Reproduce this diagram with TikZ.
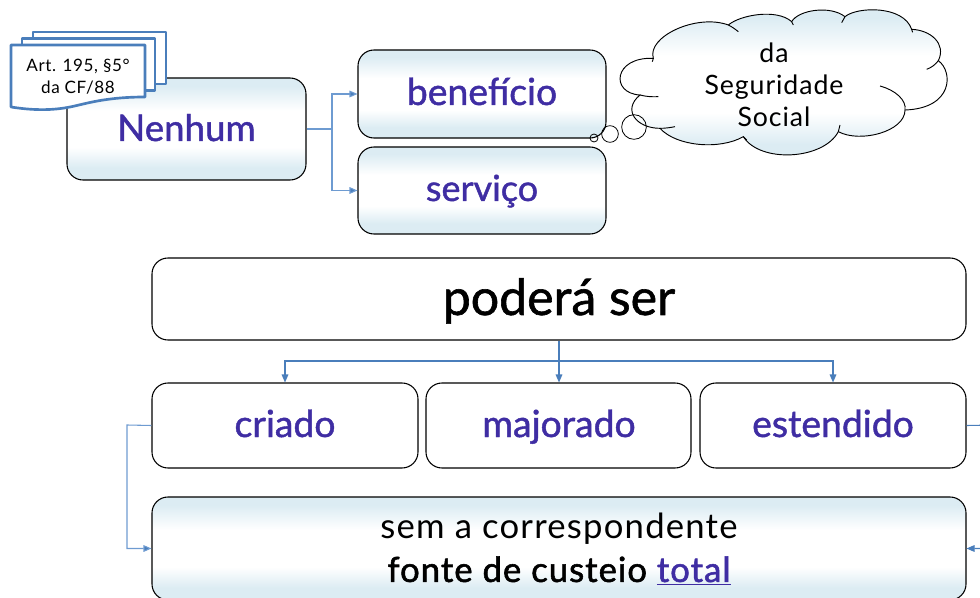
\documentclass[tikz,border=0pt]{standalone}
\usepackage{fontspec}
\setmainfont[LetterSpace=3.5]{Lato}
\newfontfamily\medfont[FakeBold=1.2]{Lato}
\newfontfamily\strongfont[FakeBold=1.6,LetterSpace=3]{Lato}
\usetikzlibrary{arrows.meta}
\definecolor{boxblue}{HTML}{DCECF3}
\definecolor{ink}{HTML}{3F2DA3}
\definecolor{linkblue}{HTML}{4A7EBB}
\definecolor{linklight}{HTML}{6E9BD1}
\pgfdeclareverticalshading{boxgrad}{100bp}{color(0bp)=(boxblue); color(31bp)=(boxblue); color(41bp)=(white); color(59bp)=(white); color(71bp)=(boxblue); color(100bp)=(boxblue)}
\tikzset{
  box/.style={draw=black,line width=0.8pt,rounded corners=12pt,inner sep=0pt,align=center},
  gradbox/.style={box,shading=boxgrad},
  plainbox/.style={box,fill=white},
  link/.style={draw=linkblue,line width=0.8pt,-{Triangle[length=6pt,width=5pt]}},
  linkl/.style={draw=linklight,line width=0.8pt,-{Triangle[length=6pt,width=5pt,fill=linkblue]}},
  page/.style={draw=linkblue,line width=2pt,fill=white,line join=round},
  bubble/.style={circle,draw=black,line width=0.6pt,inner sep=0pt},
  label/.style={inner sep=0pt,align=center},
}
\begin{document}
\begin{tikzpicture}[x=0.75pt,y=-0.75pt]
\useasboundingbox (0,0) rectangle (980,598);
\clip (0,0) rectangle (980,598);
% boxes
\node[gradbox,minimum width=179.25pt,minimum height=76.5pt] (nenhum) at (186.5,129) {};
\node[gradbox,minimum width=186pt,minimum height=66pt] (beneficio) at (482,94) {};
\node[gradbox,minimum width=186pt,minimum height=65.25pt] (servico) at (482,190.5) {};
\node[plainbox,minimum width=610.5pt,minimum height=61.5pt] (podera) at (559,299) {};
\node[plainbox,minimum width=199.5pt,minimum height=63.75pt] (criado) at (285,425.5) {};
\node[plainbox,minimum width=198.75pt,minimum height=63.75pt] (majorado) at (558.5,425.5) {};
\node[plainbox,minimum width=199.5pt,minimum height=63.75pt] (estendido) at (833,425.5) {};
\node[gradbox,minimum width=610.5pt,minimum height=77.25pt] (fonte) at (559,548.5) {};
% box texts, on a common baseline per box
\node[label,anchor=base,text=ink,font=\medfont\fontsize{27.5}{30}\selectfont] (tnenhum) at (186.5,141) {Nenhum};
\node[label,anchor=base,text=ink,font=\medfont\fontsize{28}{30}\selectfont] (tbeneficio) at (482,105) {benefício};
\node[label,anchor=base,text=ink,font=\medfont\fontsize{27}{30}\selectfont] (tservico) at (482,201) {serviço};
\node[label,anchor=base,font=\medfont\fontsize{37.5}{40}\selectfont] (tpodera) at (559,315) {poderá ser};
\node[label,anchor=base,text=ink,font=\medfont\fontsize{28}{30}\selectfont] (tcriado) at (285,437) {criado};
\node[label,anchor=base,text=ink,font=\medfont\fontsize{28}{30}\selectfont] (tmajorado) at (559,437) {majorado};
\node[label,anchor=base,text=ink,font=\medfont\fontsize{28}{30}\selectfont] (testendido) at (833,437) {estendido};
\node[label,font=\fontsize{26}{32.5}\selectfont] (tfonte) at (559,549) {sem a correspondente\\{\strongfont fonte de custeio \textcolor{ink}{\underline{total}}}};
% connectors
\coordinate (splitn) at (332,129);
\coordinate (bus) at (559,361);
\coordinate (leftrail) at (127,425);
\coordinate (rightrail) at (995,425);
\draw[linkl] (nenhum.east) -- (splitn) |- (beneficio.west);
\draw[linkl] (splitn) |- (servico.west);
\draw[link] (podera.south) -- (bus) -| (criado.north);
\draw[link] (bus) -- (majorado.north -| bus);
\draw[link] (bus) -| (estendido.north);
\draw[linkl] (criado.west) -- (leftrail) |- (fonte.west);
\draw[link] (estendido.east) -- (rightrail) |- (fonte.east);
% document stack
\draw[page] (33,32) -- (166,32) -- (166,84) -- (33,84) -- cycle;
\draw[page] (22,38.5) -- (155,38.5) -- (155,90.5) -- (22,90.5) -- cycle;
\draw[page] (11,45) -- (145,45) -- (145,97) .. controls (105,97) and (85,104) .. (70,107) .. controls (50,111) and (30,110) .. (11,107) -- cycle;
\node[label,font=\fontsize{12.8}{16.5}\selectfont] (doc) at (78,76.5) {Art. 195, §5°\\da CF/88};
% cloud
\begin{scope}[shift={(580,0)},x=0.25pt,y=-0.25pt]
\path[shading=boxgrad,draw=black,line width=0.7pt]
 (445,75) .. controls (480,45) and (590,25) .. (635,65)
 .. controls (655,30) and (750,15) .. (795,50)
 .. controls (830,20) and (970,15) .. (995,88)
 .. controls (1050,90) and (1100,130) .. (1075,182)
 .. controls (1120,215) and (1120,325) .. (975,330)
 .. controls (975,395) and (840,430) .. (775,395)
 .. controls (730,480) and (540,490) .. (490,410)
 .. controls (420,450) and (290,440) .. (240,385)
 .. controls (170,385) and (125,330) .. (180,285)
 .. controls (90,280) and (100,170) .. (220,175)
 .. controls (200,110) and (350,40) .. (445,75) -- cycle;
\draw[line width=0.7pt,fill=none]
 (445,75) .. controls (455,80) and (465,87) .. (475,95)
 (635,65) -- (640,75)
 (795,50) -- (785,68)
 (995,88) -- (998,97)
 (1075,182) .. controls (1065,195) and (1055,202) .. (1040,208)
 (975,330) .. controls (980,300) and (945,270) .. (900,258)
 (775,395) -- (780,375)
 (490,410) -- (500,420)
 (240,385) .. controls (255,385) and (270,383) .. (285,380)
 (180,285) .. controls (200,290) and (215,291) .. (235,290)
 (220,175) -- (217,185);
\end{scope}
\node[label,font=\fontsize{20}{24.2}\selectfont] (cloudtext) at (774,85) {da\\Seguridade\\Social};
\node[bubble,minimum size=6pt] (b1) at (594,138) {};
\node[bubble,minimum size=12.5pt] (b2) at (610,134) {};
\node[bubble,minimum size=18.5pt] (b3) at (634,127) {};
\end{tikzpicture}
\end{document}
